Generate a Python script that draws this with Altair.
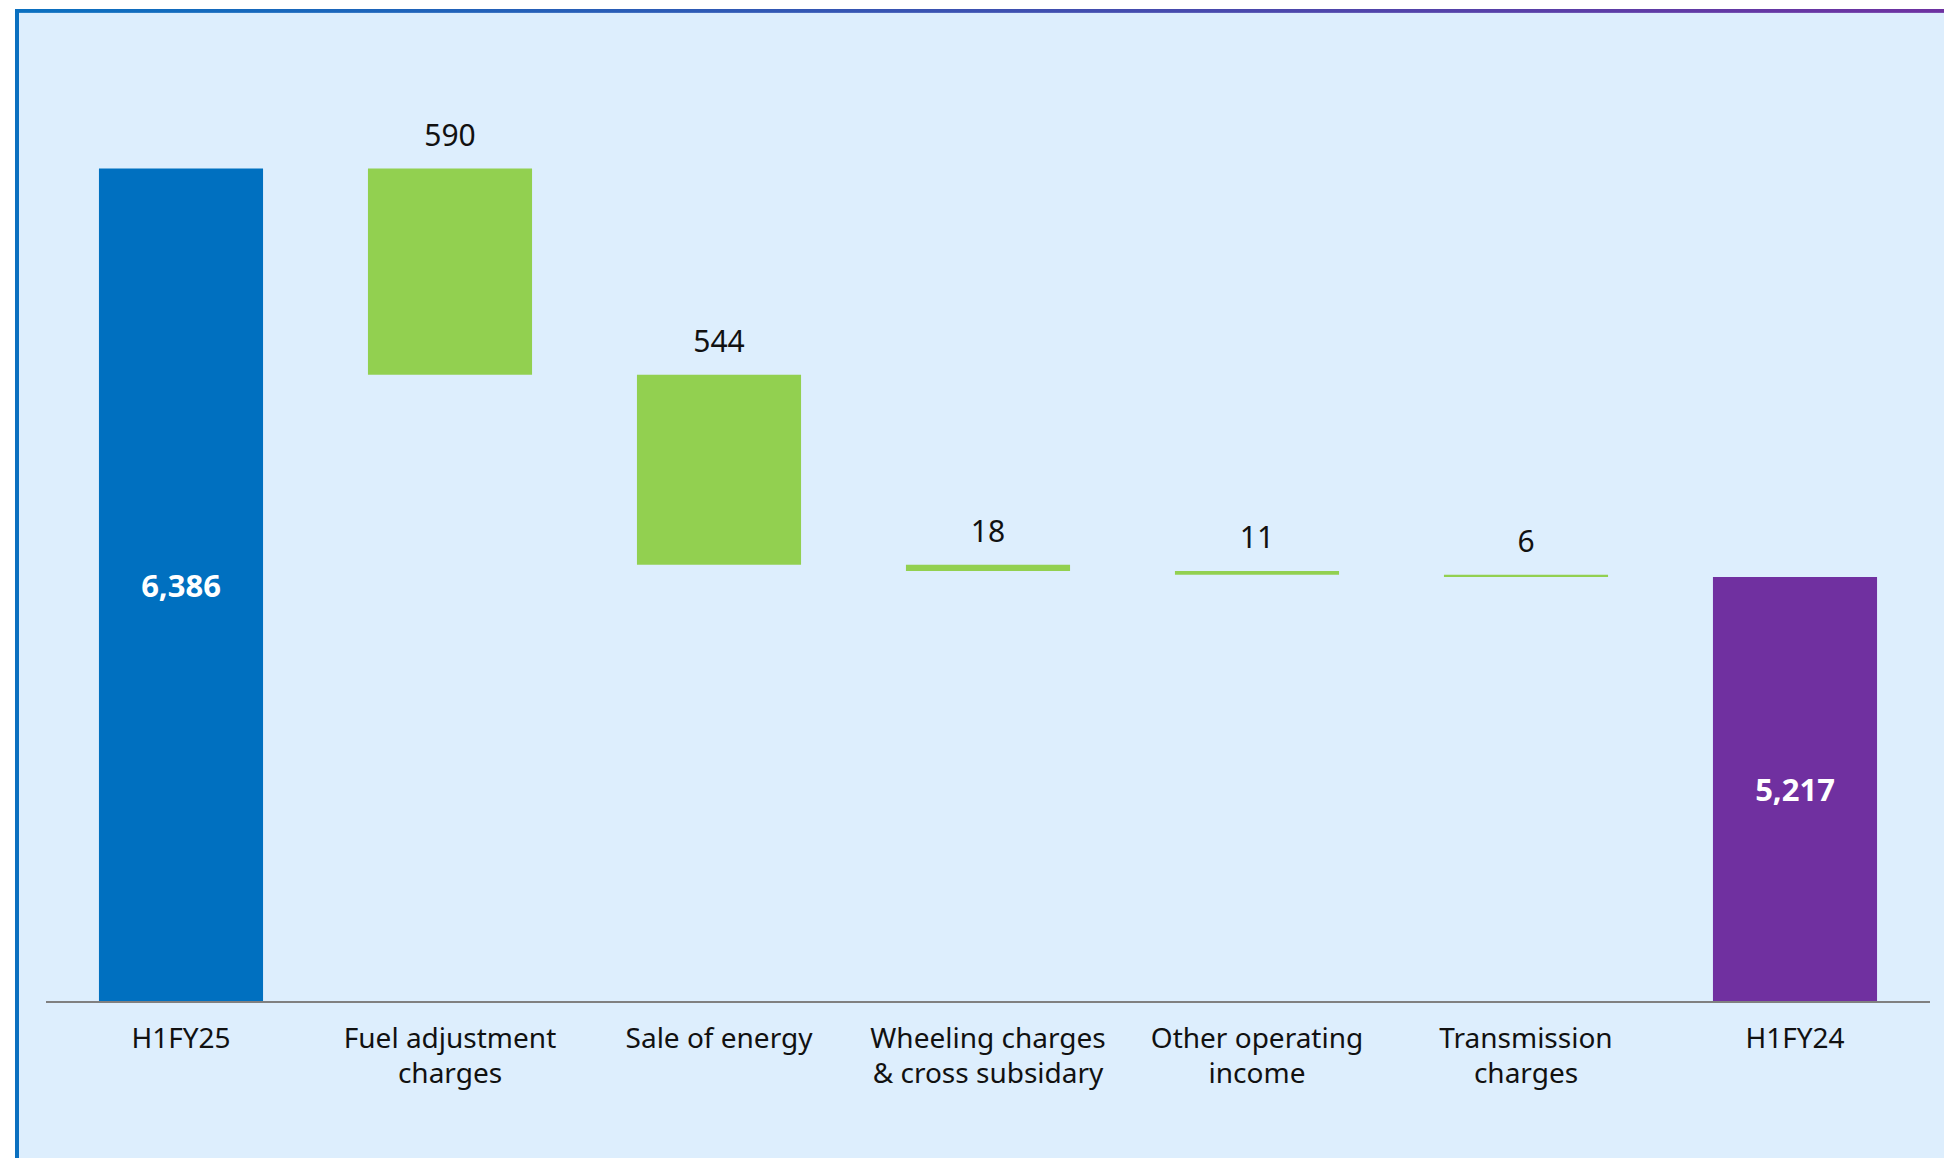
import altair as alt
import pandas as pd

# ---- data ----
categories = ["H1FY25", "Fuel adjustment\ncharges", "Sale of energy",
              "Wheeling charges\n& cross subsidary", "Other operating\nincome",
              "Transmission\ncharges", "H1FY24"]
values = [6386, -590, -544, -18, -11, -6, 5217]
kinds = ["start", "delta", "delta", "delta", "delta", "delta", "end"]
labels = ["6,386", "590", "544", "18", "11", "6", "5,217"]
axis_min = 4000
axis_max = 6800

# ---- waterfall table ----
rows = []
running = 0
for cat, v, k, lab in zip(categories, values, kinds, labels):
    if k == "delta":
        s, e = running, running + v
        running = e
    else:
        s, e = axis_min, v
        running = v
    rows.append({"category": cat, "start": s, "end": e, "kind": k, "label": lab,
                 "top": max(s, e), "mid": (s + e) / 2})
df = pd.DataFrame(rows)

W, H = 1883, 978
PAD_L, PAD_T = 46.5, 24
FONT = "Noto Sans"

xenc = alt.X("category:N", sort=categories,
             scale=alt.Scale(paddingInner=0.39, paddingOuter=0.195),
             axis=alt.Axis(title=None, labelAngle=0, domain=False, ticks=False,
                           labelFontSize=28, labelColor="#111111", labelFont=FONT,
                           labelPadding=23, labelLineHeight=35, zindex=2, labelLimit=0,
                           labelExpr="split(datum.value, '\\n')"))
yscale = alt.Scale(domain=[axis_min, axis_max], nice=False, zero=False)

base = alt.Chart(df)

panel = base.mark_rect(color="#DDEEFD").encode(
    x=alt.value(16 - PAD_L), x2=alt.value(1944), y=alt.value(10 - PAD_T), y2=alt.value(1200))
left_border = base.mark_rect(color="#0A70C0").encode(
    x=alt.value(15 - PAD_L), x2=alt.value(18.5 - PAD_L), y=alt.value(9 - PAD_T), y2=alt.value(1200))
top_border = base.mark_rect(
    fill=alt.LinearGradient(gradient="linear",
                            stops=[alt.GradientStop(color="#0A70C0", offset=0),
                                   alt.GradientStop(color="#7030A0", offset=1)],
                            x1=0, x2=1, y1=0, y2=0)
).encode(x=alt.value(15 - PAD_L), x2=alt.value(1944), y=alt.value(9 - PAD_T), y2=alt.value(12.3 - PAD_T))

bars = base.mark_bar().encode(
    x=xenc,
    y=alt.Y("start:Q", scale=yscale, axis=None),
    y2="end:Q",
    color=alt.Color("kind:N", legend=None,
                    scale=alt.Scale(domain=["start", "delta", "end"],
                                    range=["#0070C0", "#92D050", "#7030A0"])),
)

axis_line = base.mark_rule(color="#808080", strokeWidth=1.8).encode(
    x=alt.value(0), x2=alt.value(W + 0.5), y=alt.value(H))

delta_labels = base.transform_filter("datum.kind == 'delta'").mark_text(
    baseline="alphabetic", dy=-23, fontSize=30, font=FONT, color="#111111"
).encode(x=alt.X("category:N", sort=categories), y=alt.Y("top:Q", scale=yscale), text="label:N")

total_labels = base.transform_filter("datum.kind != 'delta'").mark_text(
    baseline="middle", dy=3, fontSize=31, font=FONT, fontWeight="bold", color="white"
).encode(x=alt.X("category:N", sort=categories), y=alt.Y("mid:Q", scale=yscale), text="label:N")

chart = alt.layer(panel, left_border, top_border, bars, axis_line, delta_labels, total_labels).properties(
    width=W, height=H,
    autosize=alt.AutoSizeParams(type="none"),
    padding={"left": PAD_L, "top": PAD_T, "right": 1944 - PAD_L - W, "bottom": 1158 - PAD_T - H},
    background="white",
).configure_view(stroke=None)

chart.save("out.html", embed_options={"renderer": "svg", "actions": False})
